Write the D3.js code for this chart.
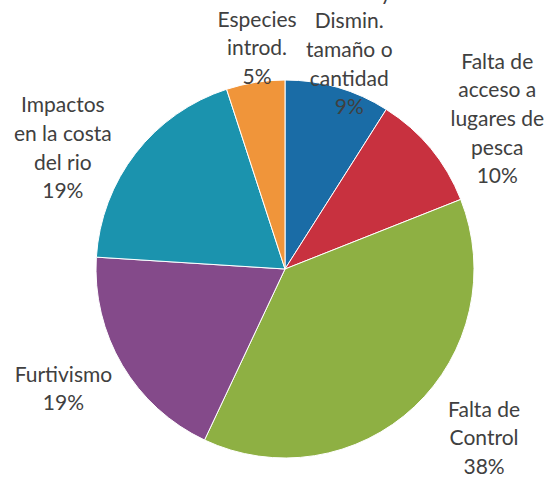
<!DOCTYPE html>
<html>
<head>
<meta charset="utf-8">
<script src="https://cdn.jsdelivr.net/npm/d3@7"></script>
<style>
  html, body { margin: 0; padding: 0; background: #ffffff; }
  svg { display: block; }
</style>
</head>
<body>
<div id="chart"></div>
<script>
// ---- data ----
const categories = [
  ["Calidad y", "Dismin.", "tamaño o", "cantidad"],
  ["Falta de", "acceso a", "lugares de", "pesca"],
  ["Falta de", "Control"],
  ["Furtivismo"],
  ["Impactos", "en la costa", "del rio"],
  ["Especies", "introd."]
];
const values = [9, 10, 38, 19, 19, 5];
const percentLabels = ["9%", "10%", "38%", "19%", "19%", "5%"];
const colors = ["#1A6CA6", "#C8313F", "#8EB043", "#844A8A", "#1B93AE", "#F0953A"];

// label layout: radial distance (relative to radius) and angular tweak (deg)
const labelRadius = [1.137, 1.376, 1.381, 1.333, 1.339, 1.18];
const labelAngleShift = [1.2, 4.3, -6.5, 2.2, -9.2, 1.8];
// first line of the first label sits above the visible window
const hiddenFirstLine = [true, false, false, false, false, false];

const W = 552, H = 480;
const cx = 285, cy = 269, R = 189;
const lineH = 28.6;

const svg = d3.select("#chart").append("svg")
  .attr("width", W).attr("height", H);

const pie = d3.pie().sort(null).value(d => d)
  .startAngle(0).endAngle(2 * Math.PI);
const arcs = pie(values);
const arc = d3.arc().innerRadius(0).outerRadius(R);

const g = svg.append("g").attr("transform", `translate(${cx},${cy})`);

g.selectAll("path.slice")
  .data(arcs)
  .join("path")
  .attr("class", "slice")
  .attr("d", arc)
  .attr("fill", (d, i) => colors[i])
  .attr("stroke", "#ffffff")
  .attr("stroke-width", 1);

// labels
arcs.forEach((a, i) => {
  const mid = (a.startAngle + a.endAngle) / 2 + labelAngleShift[i] * Math.PI / 180;
  const rr = R * labelRadius[i];
  const x = Math.sin(mid) * rr;
  const y = -Math.cos(mid) * rr;
  const lines = categories[i].concat([percentLabels[i]]);
  const n = lines.length;
  const offsetLines = hiddenFirstLine[i] ? 1 : 0;
  const visibleN = n - offsetLines;
  const top = y - (visibleN - 1) * lineH / 2 - offsetLines * lineH;
  const t = g.append("text")
    .attr("text-anchor", "middle")
    .attr("font-family", "Lato, 'Open Sans', sans-serif")
    .attr("font-size", 21)
    .attr("fill", "#404040");
  lines.forEach((ln, j) => {
    t.append("tspan")
      .attr("x", x)
      .attr("y", top + j * lineH)
      .attr("dy", "0.35em")
      .text(ln);
  });
});
</script>
</body>
</html>
